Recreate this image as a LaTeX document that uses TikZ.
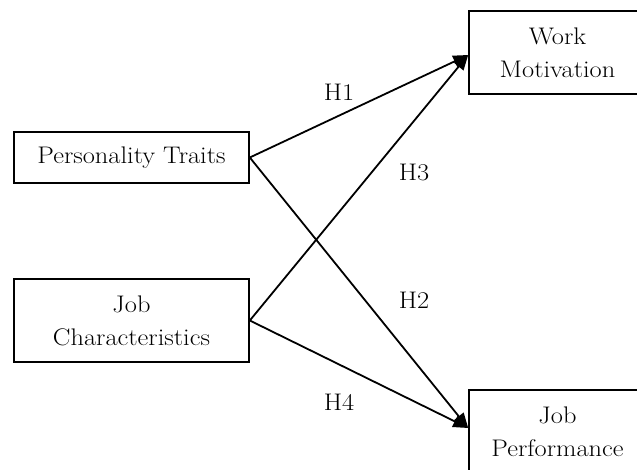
\documentclass[tikz,border=0pt]{standalone}
\usetikzlibrary{arrows.meta}
\newcommand{\sxt}[1]{\scalebox{1.1}[1]{#1}}
\begin{document}
\begin{tikzpicture}[x=1pt,y=-1pt,
  box/.style={draw,line width=1.6pt,rectangle,inner sep=0pt,align=center,
    font=\fontsize{24}{33}\selectfont},
  lbl/.style={inner sep=0pt,font=\fontsize{24}{26}\selectfont},
  conn/.style={line width=1.8pt,-{Triangle[length=15pt,width=12pt]}}]
\useasboundingbox (0,0) rectangle (637,470);
\clip (0,0) rectangle (637,470);
\node[box,minimum width=235pt,minimum height=51pt] (pt) at (131.5,157.5) {\sxt{Personality Traits}};
\node[box,minimum width=235pt,minimum height=83pt] (jc) at (131.5,320.5) {\sxt{Job}\\\sxt{Characteristics}};
\node[box,minimum width=177pt,minimum height=83pt] (wm) at (557.5,52.5) {\sxt{Work}\\\sxt{Motivation}};
\node[box,minimum width=177pt,minimum height=83pt] (jp) at (557.5,431.5) {\sxt{Job}\\\sxt{Performance}};
\coordinate (wmin) at ([yshift=-2.5pt]wm.west);
\coordinate (jpin) at ([yshift=3.5pt]jp.west);
\draw[conn] (pt.east) -- (wmin);
\draw[conn] (jc.east) -- (wmin);
\draw[conn] (pt.east) -- (jpin);
\draw[conn] (jc.east) -- (jpin);
\node[lbl] (h1) at (339,92) {\sxt{H1}};
\node[lbl] (h3) at (414,172) {\sxt{H3}};
\node[lbl] (h2) at (414,300) {\sxt{H2}};
\node[lbl] (h4) at (339,402) {\sxt{H4}};
\end{tikzpicture}
\end{document}
